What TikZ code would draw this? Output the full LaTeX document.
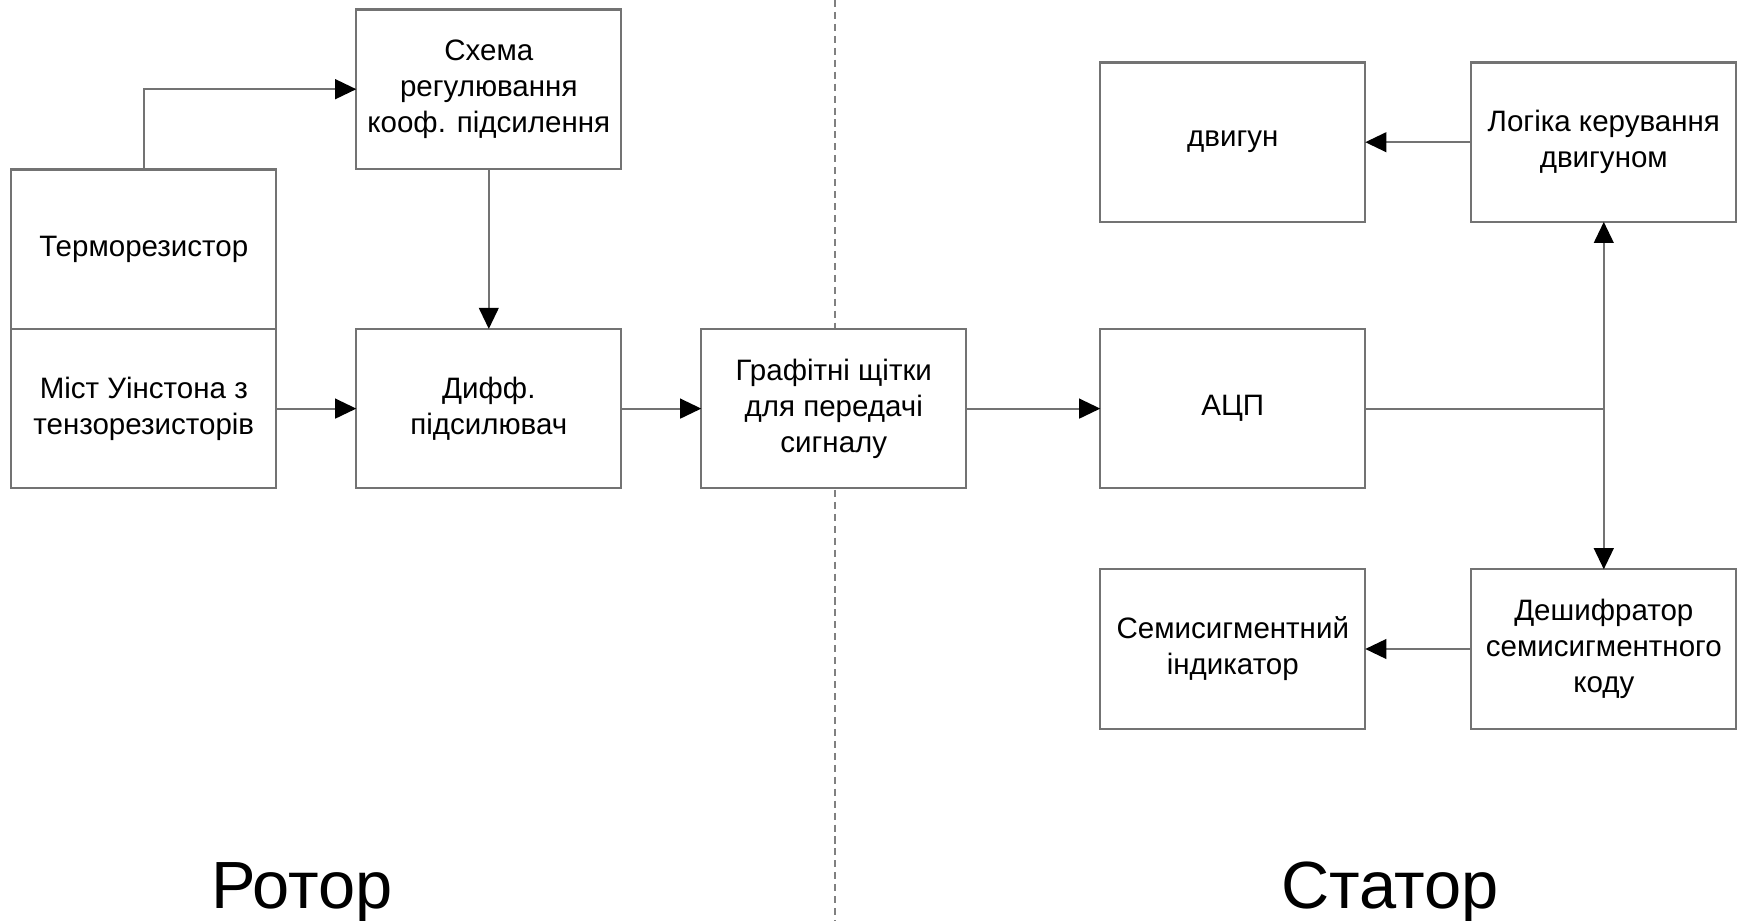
\documentclass[tikz,border=0pt]{standalone}
\usepackage{fontspec}
\setmainfont{Liberation Sans}
\usetikzlibrary{arrows.meta, positioning}

\begin{document}
\begin{tikzpicture}[->,>={Triangle[length=6pt,width=5.6pt,color=black]},
 line width=0.6pt,draw=black!55,node distance=0.8cm,
 block/.style={rectangle,draw=black!55,fill=white,align=center,outer sep=0pt,
   inner xsep=1pt,minimum width=2.65cm,minimum height=1.594cm,
   font=\fontsize{8.4pt}{10.2pt}\selectfont},
 side/.style={font=\fontsize{19pt}{21pt}\selectfont,anchor=base}]
  \useasboundingbox (0,0) rectangle (17.48,-9.21);
  % border between rotor and stator
  \draw[-,black!50,dash pattern=on 2pt off 1.4pt] (8.35,0) -- (8.35,-9.21);

  \node[block] (TR) at (1.438,-2.492) {Терморезистор};
  \node[block] (WB) [below=0pt of TR] {Міст Уінстона з\\тензорезисторів};
  \node[block] (DA) [right=of WB] {Дифф.\\підсилювач};
  \node[block] (GC) [above=1.6cm of DA] {Схема\\регулювання\\кооф. підсилення};
  \node[block] (GB) [right=of DA] {Графітні щітки\\для передачі\\сигналу};
  \node[block] (ADC) [right=1.34cm of GB] {АЦП};
  \node[block] (MOT) [above=1.07cm of ADC] {двигун};
  \node[block] (LOG) [right=1.06cm of MOT] {Логіка керування\\двигуном};
  \node[block] (IND) [below=0.81cm of ADC] {Семисигментний\\індикатор};
  \node[block] (DEC) [right=1.06cm of IND] {Дешифратор\\семисигментного\\коду};
  \coordinate (junc) at (LOG |- ADC);

  \node[side] (rotor) at (3.02,-9.08) {Ротор};
  \node[side] (stator) at (13.9,-9.08) {Статор};

  \draw (TR.north) |- (GC.west);
  \foreach \s/\t in {WB/DA, DA/GB, GB/ADC, LOG/MOT, DEC/IND} {
    \draw (\s) -- (\t);}
  \draw (GC) -- (DA);
  \draw[-] (ADC) -- (junc);
  \draw (junc) -- (LOG);
  \draw (junc) -- (DEC);
\end{tikzpicture}
\end{document}
